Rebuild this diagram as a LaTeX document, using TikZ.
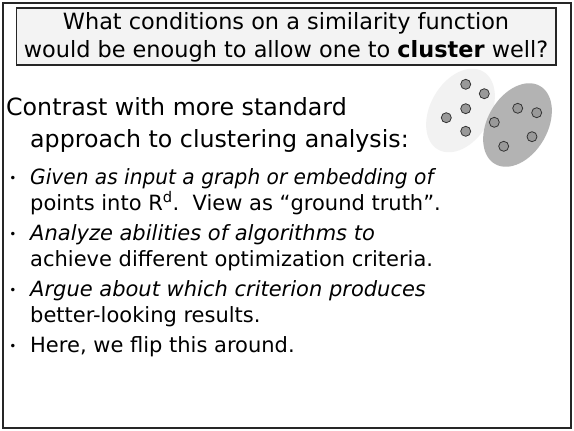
\documentclass[tikz,border=0pt]{standalone}
\usepackage{fontspec}
\setmainfont{DejaVu Sans}
\usetikzlibrary{shapes.geometric}
\definecolor{framecol}{HTML}{262626}
\definecolor{titlefill}{HTML}{F3F3F3}
\definecolor{lightclu}{HTML}{F2F2F2}
\definecolor{darkclu}{HTML}{B3B3B3}
\definecolor{dotfill}{HTML}{999999}
\definecolor{dotline}{HTML}{333333}
\begin{document}
\begin{tikzpicture}[x=1pt,y=-1pt,
  titletxt/.style={anchor=base, inner sep=0pt, font=\fontsize{22.4}{26}\selectfont},
  maintxt/.style={anchor=base west, inner sep=0pt, font=\fontsize{23.7}{28}\selectfont},
  bultxt/.style={anchor=base west, inner sep=0pt, font=\fontsize{21}{25}\selectfont},
  bulitx/.style={bultxt, font=\fontsize{21}{25}\selectfont\itshape},
  bulmark/.style={anchor=base, inner sep=0pt, font=\fontsize{12}{14}\selectfont},
  clu/.style={ellipse, minimum width=90pt, minimum height=60pt, rotate=60, draw=none, inner sep=0pt},
  dot/.style={circle, minimum size=10pt, inner sep=0pt, fill=dotfill, draw=dotline, line width=0.8pt}
]
\useasboundingbox (0,0) rectangle (574,431);
\fill[white] (0,0) rectangle (574,431);
% outer frame
\draw[framecol, line width=2pt] (2.5,2.5) rectangle (571,428);
% title box
\node[draw=framecol, fill=titlefill, line width=1.2pt, minimum width=539.5pt, minimum height=57pt, inner sep=0pt] (tbox) at (286.25,36.5) {};
\node[titletxt] (t1) at (286,30) {What conditions on a similarity function};
\node[titletxt] (t2) at (286,57) {would be enough to allow one to \textbf{cluster} well?};
% clusters
\node[clu, fill=lightclu] (cA) at (460.5,110.5) {};
\node[clu, fill=darkclu] (cB) at (517.5,125) {};
\foreach \n/\x/\y in {a1/465.7/84.3, a2/484.3/93.7, a3/465.7/108.7, a4/446.3/117.7, a5/465.7/131.3,
                      b1/517.7/108.3, b2/536.7/112.7, b3/494.3/122.3, b4/532/136.7, b5/503.7/146.3}
  \node[dot] (\n) at (\x,\y) {};
% main text
\node[maintxt] (m1) at (6,115) {Contrast with more standard};
\node[maintxt] (m2) at (30,147) {approach to clustering analysis:};
% bullets
\node[bulmark] (d1) at (13,182) {•};
\node[bulitx] (g1) at (30,184) {\scalebox{0.96}[1]{Given as input a graph or embedding of}};
\node[bultxt] (g2) at (30,210) {points into R\textsuperscript{d}.\ \ View as “ground truth”.};
\node[bulmark] (d2) at (13,238) {•};
\node[bulitx] (h1) at (30,240) {Analyze abilities of algorithms to};
\node[bultxt] (h2) at (30,266) {achieve different optimization criteria.};
\node[bulmark] (d3) at (13,294) {•};
\node[bulitx] (k1) at (30,296) {Argue about which criterion produces};
\node[bultxt] (k2) at (30,322) {better-looking results.};
\node[bulmark] (d4) at (13,350) {•};
\node[bultxt] (k3) at (30,352) {Here, we flip this around.};
\end{tikzpicture}
\end{document}
